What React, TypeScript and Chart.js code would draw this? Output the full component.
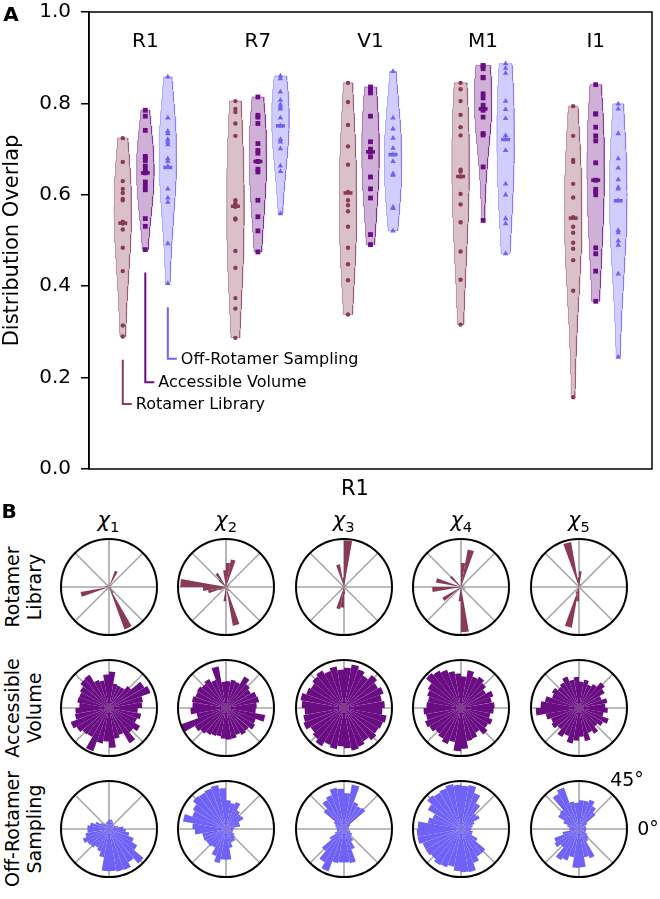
import React, { useEffect, useRef } from 'react';
import { Chart, registerables } from 'chart.js';
Chart.register(...registerables);

const FONT = "'DejaVu Sans', sans-serif";

// ---------------- Panel A data ----------------
const groups = ['R1', 'R7', 'V1', 'M1', 'I1'];
const seriesNames = ['Rotamer Library', 'Accessible Volume', 'Off-Rotamer Sampling'];
const seriesColors = ['#8A3A58', '#6A0D83', '#7062F5'];
const yTicks = [0, 0.2, 0.4, 0.6, 0.8, 1.0];

const rotamerLibrary = [
  [0.724, 0.672, 0.630, 0.613, 0.604, 0.591, 0.588, 0.541, 0.539, 0.537, 0.524, 0.484, 0.433, 0.314, 0.290],
  [0.805, 0.788, 0.781, 0.756, 0.729, 0.588, 0.581, 0.577, 0.574, 0.548, 0.546, 0.477, 0.440, 0.374, 0.351, 0.287],
  [0.845, 0.803, 0.753, 0.706, 0.666, 0.606, 0.588, 0.577, 0.564, 0.530, 0.484, 0.448, 0.413, 0.338],
  [0.845, 0.831, 0.805, 0.775, 0.748, 0.730, 0.655, 0.651, 0.640, 0.602, 0.579, 0.540, 0.476, 0.414, 0.316],
  [0.794, 0.729, 0.676, 0.672, 0.624, 0.594, 0.551, 0.530, 0.517, 0.495, 0.482, 0.457, 0.390, 0.157],
];
const accessibleVolume = [
  [0.785, 0.772, 0.741, 0.684, 0.681, 0.675, 0.663, 0.654, 0.650, 0.648, 0.628, 0.619, 0.611, 0.548, 0.531, 0.480],
  [0.814, 0.774, 0.770, 0.756, 0.712, 0.697, 0.691, 0.673, 0.656, 0.650, 0.588, 0.552, 0.521, 0.475],
  [0.836, 0.829, 0.823, 0.772, 0.716, 0.700, 0.695, 0.694, 0.683, 0.639, 0.613, 0.593, 0.513, 0.491],
  [0.883, 0.882, 0.876, 0.857, 0.856, 0.821, 0.812, 0.796, 0.788, 0.785, 0.770, 0.734, 0.731, 0.661, 0.544],
  [0.841, 0.777, 0.777, 0.748, 0.729, 0.718, 0.670, 0.632, 0.612, 0.607, 0.600, 0.484, 0.471, 0.433, 0.367],
];
const offRotamer = [
  [0.858, 0.768, 0.739, 0.734, 0.721, 0.716, 0.710, 0.679, 0.673, 0.662, 0.613, 0.593, 0.584, 0.493, 0.406],
  [0.860, 0.854, 0.825, 0.807, 0.797, 0.792, 0.788, 0.768, 0.751, 0.721, 0.716, 0.701, 0.663, 0.651, 0.559],
  [0.870, 0.768, 0.744, 0.724, 0.702, 0.688, 0.673, 0.646, 0.643, 0.573, 0.570, 0.521],
  [0.887, 0.877, 0.866, 0.805, 0.787, 0.767, 0.730, 0.721, 0.697, 0.624, 0.600, 0.548, 0.537, 0.471],
  [0.799, 0.788, 0.734, 0.679, 0.659, 0.633, 0.616, 0.613, 0.587, 0.522, 0.517, 0.499, 0.490, 0.427, 0.245],
];
const rotamerLibraryMedians = [0.538, 0.575, 0.604, 0.640, 0.549];
const accessibleVolumeMedians = [0.648, 0.673, 0.694, 0.788, 0.632];
const offRotamerMedians = [0.660, 0.751, 0.688, 0.721, 0.587];

// leader-line legend: [top, bottom] in data units, under the R1 group
const legendLineTop = [0.239, 0.430, 0.354];
const legendLineBottom = [0.142, 0.190, 0.241];

// ---------------- Panel B data (36 bins, CCW from 0°) ----------------
const chiLabels = ['1', '2', '3', '4', '5'];
const rowLabels = [['Rotamer', 'Library'], ['Accessible', 'Volume'], ['Off-Rotamer', 'Sampling']];
const thetaTickLabels = ['45°', '0°'];

const roseRotamerLibrary = [
  [0, 0, 0, 0.06, 0, 0, 0.36, 0, 0, 0, 0, 0, 0.06, 0, 0, 0, 0, 0.08, 0, 0.6, 0, 0, 0, 0, 0.05, 0, 0, 0, 0, 0.94, 0.15, 0, 0, 0.05, 0, 0],
  [0, 0, 0.08, 0, 0, 0, 0, 0.58, 0.5, 0.35, 0, 0, 0.34, 0.2, 0, 0, 0, 0.95, 0.48, 0.38, 0.15, 0, 0, 0, 0, 0, 0.3, 0, 0.82, 0, 0.1, 0, 0, 0, 0, 0],
  [0, 0, 0, 0, 0.05, 0, 0, 0, 0.97, 0.2, 0.48, 0, 0, 0, 0, 0, 0, 0, 0, 0, 0, 0.08, 0, 0, 0, 0.47, 0.43, 0.15, 0, 0, 0, 0, 0, 0, 0, 0],
  [0, 0, 0.08, 0, 0, 0, 0, 0.79, 0.5, 0, 0, 0, 0, 0.3, 0, 0, 0.53, 0, 0.6, 0, 0, 0.45, 0, 0, 0, 0, 0.3, 0.94, 0, 0, 0, 0, 0, 0.1, 0, 0],
  [0, 0, 0, 0, 0, 0.08, 0, 0, 0.33, 0.2, 0.95, 0, 0, 0, 0, 0, 0, 0, 0, 0, 0, 0, 0, 0, 0.15, 0.86, 0.3, 0, 0, 0, 0, 0, 0, 0, 0, 0],
];
const roseAccessibleVolume = [
  [0.69, 0.72, 0.92, 0.85, 0.6, 0.5, 0.5, 0.52, 0.76, 0.7, 0.58, 0.62, 0.8, 0.78, 0.7, 0.66, 0.67, 0.62, 0.7, 0.72, 0.85, 0.78, 0.72, 0.7, 0.96, 0.75, 0.7, 0.83, 0.65, 0.6, 0.85, 0.66, 0.75, 0.62, 0.68, 0.6],
  [0.64, 0.7, 0.68, 0.6, 0.65, 0.76, 0.58, 0.6, 0.56, 0.55, 0.88, 0.62, 0.7, 0.66, 0.7, 0.68, 0.72, 0.7, 0.74, 0.62, 0.99, 0.75, 0.7, 0.65, 0.62, 0.6, 0.64, 0.66, 0.65, 0.6, 0.65, 0.62, 0.7, 0.66, 0.83, 0.62],
  [0.85, 0.8, 0.88, 0.82, 0.9, 0.78, 0.86, 0.92, 0.84, 0.8, 0.88, 0.82, 0.9, 0.86, 0.8, 0.84, 0.92, 0.88, 0.82, 0.86, 0.9, 0.8, 0.85, 0.92, 0.82, 0.87, 0.8, 0.84, 0.9, 0.86, 0.8, 0.88, 0.83, 0.86, 0.9, 0.8],
  [0.7, 0.65, 0.72, 0.6, 0.68, 0.75, 0.7, 0.8, 0.66, 0.72, 0.78, 0.85, 0.9, 0.95, 0.8, 0.75, 0.7, 0.72, 0.78, 0.74, 0.8, 0.76, 0.7, 0.74, 0.8, 0.72, 0.9, 0.85, 0.7, 0.68, 0.6, 0.72, 0.65, 0.7, 0.62, 0.68],
  [0.55, 0.6, 0.5, 0.62, 0.7, 0.58, 0.52, 0.6, 0.55, 0.65, 0.6, 0.7, 0.62, 0.58, 0.65, 0.6, 0.72, 0.8, 0.9, 0.7, 0.62, 0.66, 0.58, 0.7, 0.62, 0.75, 0.68, 0.6, 0.7, 0.55, 0.62, 0.5, 0.58, 0.66, 0.52, 0.6],
];
const roseOffRotamer = [
  [0.3, 0.2, 0.15, 0.12, 0.12, 0.15, 0.18, 0.2, 0.2, 0.18, 0.15, 0.15, 0.12, 0.15, 0.2, 0.3, 0.4, 0.45, 0.45, 0.5, 0.58, 0.52, 0.5, 0.45, 0.5, 0.6, 0.88, 0.88, 0.9, 0.91, 0.8, 0.94, 0.68, 0.55, 0.43, 0.35],
  [0.17, 0.3, 0.3, 0.42, 0.4, 0.45, 0.6, 0.55, 0.6, 0.85, 0.93, 0.9, 0.88, 0.9, 0.8, 0.75, 0.91, 0.7, 0.65, 0.5, 0.5, 0.48, 0.48, 0.45, 0.6, 0.72, 0.64, 0.64, 0.4, 0.3, 0.3, 0.25, 0.2, 0.15, 0.15, 0.15],
  [0.1, 0.1, 0.12, 0.15, 0.58, 0.55, 0.6, 0.94, 0.75, 0.84, 0.87, 0.75, 0.7, 0.55, 0.25, 0.2, 0.18, 0.15, 0.15, 0.15, 0.2, 0.35, 0.6, 0.8, 0.94, 0.72, 0.7, 0.7, 0.72, 0.45, 0.3, 0.2, 0.2, 0.15, 0.12, 0.1],
  [0.22, 0.25, 0.3, 0.45, 0.42, 0.62, 0.8, 0.93, 0.9, 0.92, 0.95, 0.9, 0.88, 0.92, 0.8, 0.63, 0.7, 0.9, 0.92, 0.92, 0.85, 0.85, 0.82, 0.87, 0.85, 0.8, 0.88, 0.9, 0.91, 0.75, 0.66, 0.66, 0.4, 0.25, 0.25, 0.2],
  [0.15, 0.15, 0.15, 0.2, 0.45, 0.55, 0.65, 0.6, 0.6, 0.55, 0.58, 0.92, 0.85, 0.52, 0.5, 0.35, 0.25, 0.2, 0.2, 0.35, 0.55, 0.59, 0.5, 0.75, 0.7, 0.6, 0.81, 0.8, 0.6, 0.65, 0.3, 0.26, 0.2, 0.15, 0.15, 0.15],
];

// ---------------- helpers ----------------
function rgba(hex: string, a: number) {
  const r = parseInt(hex.slice(1, 3), 16), g = parseInt(hex.slice(3, 5), 16), b = parseInt(hex.slice(5, 7), 16);
  return `rgba(${r},${g},${b},${a})`;
}

// Gaussian KDE outline of the points, evaluated between their min and max
function violinShape(vals: number[], center: number, halfWidth: number) {
  const n = vals.length;
  const mean = vals.reduce((a, b) => a + b, 0) / n;
  const variance = vals.reduce((a, b) => a + (b - mean) * (b - mean), 0) / (n - 1);
  const f = 1.7 * Math.pow(n, -1 / 5);
  const bw2 = variance * f * f;
  const lo = Math.min(...vals), hi = Math.max(...vals);
  const N = 100;
  const ys: number[] = [], ds: number[] = [];
  for (let i = 0; i < N; i++) {
    const y = lo + ((hi - lo) * i) / (N - 1);
    let d = 0;
    for (const v of vals) d += Math.exp(-((y - v) * (y - v)) / (2 * bw2));
    ys.push(y); ds.push(d);
  }
  const dmax = Math.max(...ds);
  const pts: { x: number; y: number }[] = [];
  for (let i = 0; i < N; i++) pts.push({ x: center - (ds[i] / dmax) * halfWidth, y: ys[i] });
  for (let i = N - 1; i >= 0; i--) pts.push({ x: center + (ds[i] / dmax) * halfWidth, y: ys[i] });
  pts.push(pts[0]);
  return pts;
}

const OFFSETS = [-0.2, 0, 0.2];
const POINT_STYLES = ['circle', 'rect', 'triangle'];
const POINT_RADII = [2.2, 3.4, 3.2];
const LEG_HX = 0.08;

const panelAPlugin = {
  id: 'panelA',
  afterDraw(chart: any) {
    const { ctx, chartArea, scales } = chart;
    const x = scales.x, y = scales.y;
    ctx.save();
    ctx.strokeStyle = '#000';
    ctx.lineWidth = 1.5;
    ctx.strokeRect(chartArea.left, chartArea.top, chartArea.right - chartArea.left, chartArea.bottom - chartArea.top);
    ctx.fillStyle = '#000';
    ctx.font = `20px ${FONT}`;
    ctx.textAlign = 'center';
    ctx.textBaseline = 'middle';
    groups.forEach((g, i) => ctx.fillText(g, x.getPixelForValue(i + 1), y.getPixelForValue(0.935)));
    ctx.font = `16px ${FONT}`;
    ctx.textAlign = 'left';
    seriesNames.forEach((name, si) => {
      const px = x.getPixelForValue(1 + OFFSETS[si] + LEG_HX) + 4;
      const py = y.getPixelForValue(legendLineBottom[si]);
      ctx.fillText(name, px, py + 1);
    });
    ctx.restore();
  },
};

function ViolinPanel() {
  const ref = useRef<HTMLCanvasElement>(null);
  useEffect(() => {
    const series = [rotamerLibrary, accessibleVolume, offRotamer];
    const medians = [rotamerLibraryMedians, accessibleVolumeMedians, offRotamerMedians];
    const datasets: any[] = [];
    series.forEach((s, si) => {
      const color = seriesColors[si];
      s.forEach((vals, gi) => {
        const c = gi + 1 + OFFSETS[si];
        datasets.push({
          data: violinShape(vals, c, 0.078), showLine: true, fill: 'shape',
          backgroundColor: rgba(color, 0.32), borderColor: rgba(color, 0.45), borderWidth: 1,
          pointRadius: 0, tension: 0, order: 3,
        });
        datasets.push({
          data: vals.map((v) => ({ x: c, y: v })), pointStyle: POINT_STYLES[si], pointRadius: POINT_RADII[si],
          backgroundColor: color, borderWidth: 0, order: 2,
        });
        datasets.push({
          data: [{ x: c, y: medians[si][gi] }], pointStyle: 'line', pointRadius: 4.5,
          borderColor: color, borderWidth: 3.5, order: 1,
        });
      });
      const lx = 1 + OFFSETS[si];
      datasets.push({
        data: [{ x: lx, y: legendLineTop[si] }, { x: lx, y: legendLineBottom[si] }, { x: lx + LEG_HX, y: legendLineBottom[si] }],
        showLine: true, fill: false, borderColor: color, borderWidth: 2, pointRadius: 0, tension: 0, order: 0,
      });
    });
    const chart = new Chart(ref.current as HTMLCanvasElement, {
      type: 'scatter',
      data: { datasets },
      options: {
        responsive: false,
        animation: false,
        layout: { padding: { left: 0, right: 5, top: 10, bottom: 13 } },
        plugins: { legend: { display: false }, tooltip: { enabled: false } },
        scales: {
          x: { type: 'linear', min: 0.5, max: 5.5, display: false },
          y: {
            type: 'linear', min: 0, max: 1,
            afterBuildTicks: (scale: any) => { scale.ticks = yTicks.map((v) => ({ value: v })); },
            afterFit: (scale: any) => { scale.width = 89; scale.paddingTop = 0; scale.paddingBottom = 0; },
            ticks: { color: '#000', font: { family: FONT, size: 20, lineHeight: 1 }, padding: 10, callback: (v: any) => Number(v).toFixed(1) },
            grid: { drawOnChartArea: false, tickLength: 8, color: '#000', lineWidth: 1.5 },
            border: { display: true, color: '#000', width: 1.5 },
            title: { display: true, text: 'Distribution Overlap', color: '#000', font: { family: FONT, size: 21 }, padding: 0 },
          },
        },
      } as any,
      plugins: [panelAPlugin],
    });
    return () => chart.destroy();
  }, []);
  return <canvas ref={ref} width={660} height={480} style={{ position: 'absolute', left: 0, top: 2 }} />;
}

const roseFramePlugin = {
  id: 'roseFrame',
  beforeDatasetsDraw(chart: any) {
    const r = chart.scales.r;
    const { ctx } = chart;
    ctx.save();
    ctx.strokeStyle = '#a6a6a6';
    ctx.lineWidth = 1.6;
    for (let k = 0; k < 8; k++) {
      const a = (k * Math.PI) / 4;
      ctx.beginPath();
      ctx.moveTo(r.xCenter, r.yCenter);
      ctx.lineTo(r.xCenter + Math.cos(a) * r.drawingArea, r.yCenter - Math.sin(a) * r.drawingArea);
      ctx.stroke();
    }
    ctx.restore();
  },
  afterDatasetsDraw(chart: any) {
    const r = chart.scales.r;
    const { ctx } = chart;
    ctx.save();
    ctx.strokeStyle = '#000';
    ctx.lineWidth = 2;
    ctx.beginPath();
    ctx.arc(r.xCenter, r.yCenter, r.drawingArea, 0, Math.PI * 2);
    ctx.stroke();
    ctx.restore();
  },
};

function Rose({ values, color, cx, cy }: { values: number[]; color: string; cx: number; cy: number }) {
  const ref = useRef<HTMLCanvasElement>(null);
  useEffect(() => {
    const chart = new Chart(ref.current as HTMLCanvasElement, {
      type: 'polarArea',
      data: {
        labels: values.map(() => ''),
        // Chart.js runs clockwise; matplotlib bins run counter-clockwise from 0°
        datasets: [{ data: [...values].reverse(), backgroundColor: color, borderWidth: 0 }],
      },
      options: {
        responsive: false,
        animation: false,
        layout: { padding: 4 },
        plugins: { legend: { display: false }, tooltip: { enabled: false } },
        scales: {
          r: {
            min: 0, max: 1, startAngle: 90,
            ticks: { display: false },
            grid: { display: false },
            angleLines: { display: false },
            pointLabels: { display: false },
          },
        },
      } as any,
      plugins: [roseFramePlugin],
    });
    return () => chart.destroy();
  }, []);
  return <canvas ref={ref} width={104} height={104} style={{ position: 'absolute', left: cx - 52, top: cy - 52 }} />;
}

const colXs = [108.5, 226.1, 343.7, 461.3, 578.9];
const rowYs = [586.5, 707.5, 829];

function Text({ x, y, children, size = 20, weight = 'normal', rotate = 0, style = {} }: any) {
  return (
    <div
      style={{
        position: 'absolute', left: x, top: y, transform: `translate(-50%, -50%) rotate(${rotate}deg)`,
        fontFamily: FONT, fontSize: size, fontWeight: weight, color: '#000', whiteSpace: 'nowrap',
        lineHeight: 1.15, textAlign: 'center', ...style,
      }}
    >
      {children}
    </div>
  );
}

export default function App() {
  const roseRows = [roseRotamerLibrary, roseAccessibleVolume, roseOffRotamer];
  return (
    <div style={{ position: 'absolute', left: 0, top: 0, width: 660, height: 899, background: '#fff' }}>
      <ViolinPanel />
      <Text x={11} y={14} size={20} weight="bold">A</Text>
      <Text x={9} y={511} size={20} weight="bold">B</Text>
      <Text x={355} y={488} size={21}>{groups[0]}</Text>
      {chiLabels.map((c, i) => (
        <Text key={'chi' + i} x={colXs[i]} y={520} size={21}>
          <span style={{ fontStyle: 'italic' }}>χ</span>
          <span style={{ fontSize: '0.7em', position: 'relative', top: '0.35em' }}>{c}</span>
        </Text>
      ))}
      {rowLabels.map((lines, ri) => (
        <Text key={'row' + ri} x={24} y={rowYs[ri]} size={19} rotate={-90}>
          {lines[0]}<br />{lines[1]}
        </Text>
      ))}
      {roseRows.map((row, ri) =>
        row.map((vals, ci) => (
          <Rose key={`rose${ri}-${ci}`} values={vals} color={seriesColors[ri]} cx={colXs[ci]} cy={rowYs[ri]} />
        ))
      )}
      <Text x={627} y={780} size={19}>{thetaTickLabels[0]}</Text>
      <Text x={648} y={829} size={19}>{thetaTickLabels[1]}</Text>
    </div>
  );
}
